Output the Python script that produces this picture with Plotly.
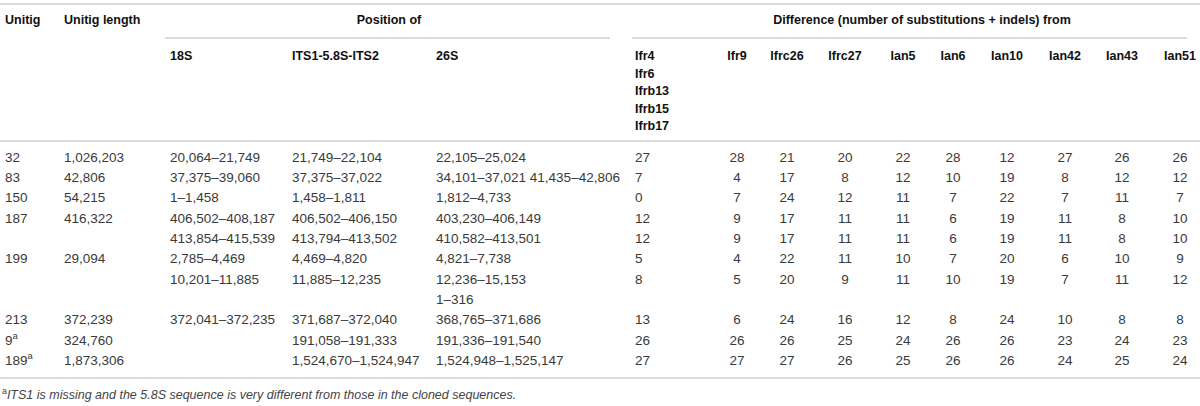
import plotly.graph_objects as go

# table contents
unitigs = ["32", "83", "150", "187", "", "199", "", "", "213", "9<sup>a</sup>", "189<sup>a</sup>"]
lengths = ["1,026,203", "42,806", "54,215", "416,322", "", "29,094", "", "", "372,239", "324,760", "1,873,306"]
pos_18s = ["20,064–21,749", "37,375–39,060", "1–1,458", "406,502–408,187", "413,854–415,539",
           "2,785–4,469", "10,201–11,885", "", "372,041–372,235", "", ""]
pos_its = ["21,749–22,104", "37,375–37,022", "1,458–1,811", "406,502–406,150", "413,794–413,502",
           "4,469–4,820", "11,885–12,235", "", "371,687–372,040", "191,058–191,333", "1,524,670–1,524,947"]
pos_26s = ["22,105–25,024", "34,101–37,021 41,435–42,806", "1,812–4,733", "403,230–406,149",
           "410,582–413,501", "4,821–7,738", "12,236–15,153", "1–316", "368,765–371,686",
           "191,336–191,540", "1,524,948–1,525,147"]

ifr4_group = ["Ifr4", "Ifr6", "Ifrb13", "Ifrb15", "Ifrb17"]
clones = ["Ifr9", "Ifrc26", "Ifrc27", "Ian5", "Ian6", "Ian10", "Ian42", "Ian43", "Ian51"]

# differences, one list per reference column (None = empty cell)
d_ifr4 = [27, 7, 0, 12, 12, 5, 8, None, 13, 26, 27]
d_ifr9 = [28, 4, 7, 9, 9, 4, 5, None, 6, 26, 27]
d_ifrc26 = [21, 17, 24, 17, 17, 22, 20, None, 24, 26, 27]
d_ifrc27 = [20, 8, 12, 11, 11, 11, 9, None, 16, 25, 26]
d_ian5 = [22, 12, 11, 11, 11, 10, 11, None, 12, 24, 25]
d_ian6 = [28, 10, 7, 6, 6, 7, 10, None, 8, 26, 26]
d_ian10 = [12, 19, 22, 19, 19, 20, 19, None, 24, 26, 26]
d_ian42 = [27, 8, 7, 11, 11, 6, 7, None, 10, 23, 24]
d_ian43 = [26, 12, 11, 8, 8, 10, 11, None, 8, 24, 25]
d_ian51 = [26, 12, 7, 10, 10, 9, 12, None, 8, 23, 24]
diff_cols = [d_ifr9, d_ifrc26, d_ifrc27, d_ian5, d_ian6, d_ian10, d_ian42, d_ian43, d_ian51]

footnote = "<sup>a</sup><i>ITS1 is missing and the 5.8S sequence is very different from those in the cloned sequences.</i>"

W, H = 1200, 406
FONT = "Liberation Sans, Arial, sans-serif"
DATA_C = "#3a3a3a"
HEAD_C = "#111"
LINE_C = "#cfcfcf"

row_y = [158.5 + 20.3 * i for i in range(len(unitigs))]

fig = go.Figure()


def add_text(texts, x, y, pos="middle right", bold=False, size=13.5, color=DATA_C):
    xs = x if isinstance(x, list) else [x] * len(texts)
    keep = [(xx, yy, str(t)) for xx, yy, t in zip(xs, y, texts) if t not in (None, "")]
    if not keep:
        return
    xs, ys, ts = zip(*keep)
    if bold:
        ts = ["<b>%s</b>" % t for t in ts]
    fig.add_trace(go.Scatter(x=list(xs), y=list(ys), mode="text", text=list(ts), textposition=pos,
                             textfont=dict(family=FONT, size=size, color=color),
                             hoverinfo="skip", showlegend=False))


# header row 1
add_text(["Unitig"], 5, [21], bold=True, size=12.5, color=HEAD_C)
add_text(["Unitig length"], 64, [21], bold=True, size=12.5, color=HEAD_C)
add_text(["Position of"], 389, [21], pos="middle center", bold=True, size=12.5, color=HEAD_C)
add_text(["Difference (number of substitutions + indels) from"], 922, [21], pos="middle center",
         bold=True, size=12.5, color=HEAD_C)

# header row 2
add_text(["18S"], 170, [57], bold=True, size=12.5, color=HEAD_C)
add_text(["ITS1-5.8S-ITS2"], 292, [57], bold=True, size=12.5, color=HEAD_C)
add_text(["26S"], 436, [57], bold=True, size=12.5, color=HEAD_C)
add_text(ifr4_group, 635, [57 + 17.5 * i for i in range(len(ifr4_group))], bold=True, size=12.5, color=HEAD_C)

col_x = [737, 787, 845, 903, 953, 1007, 1065, 1122, 1180]
add_text(clones, col_x, [57] * len(clones), pos="middle center", bold=True, size=12.5, color=HEAD_C)

# body
add_text(unitigs, 5, row_y)
add_text(lengths, 64, row_y)
add_text(pos_18s, 170, row_y)
add_text(pos_its, 292, row_y)
add_text(pos_26s, 436, row_y)
add_text(d_ifr4, 635, row_y)
for cx, col in zip(col_x, diff_cols):
    add_text(col, cx, row_y, pos="middle center")

add_text([footnote], 2, [396], size=12.5, color="#444")

# rules
rules = [(0, W, 4), (165, 610, 38), (632, 1187, 38), (0, W, 141), (0, W, 378)]
for x0, x1, y in rules:
    fig.add_shape(type="line", x0=x0, x1=x1, y0=y, y1=y, xref="x", yref="y",
                  line=dict(color=LINE_C, width=1.3))

fig.update_layout(
    width=W, height=H,
    margin=dict(l=0, r=0, t=0, b=0),
    paper_bgcolor="white", plot_bgcolor="white",
    xaxis=dict(range=[0, W], visible=False, fixedrange=True),
    yaxis=dict(range=[H, 0], visible=False, fixedrange=True),
)

fig.write_html("out.html", config={"displayModeBar": False},
               post_script="document.body.style.margin='0';"
                           "document.documentElement.style.overflow='hidden';")
